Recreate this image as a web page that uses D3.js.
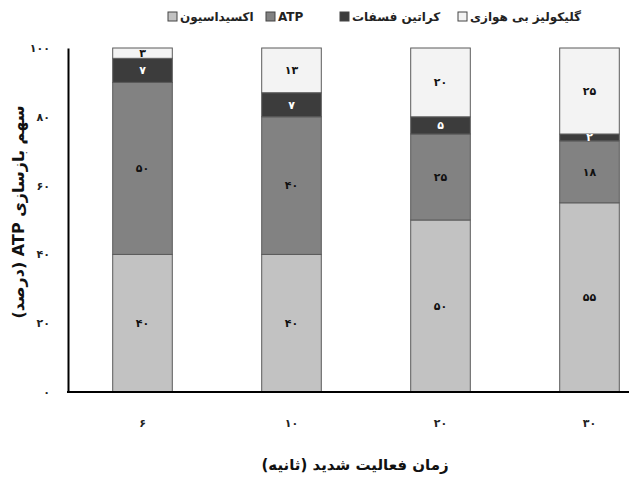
<!DOCTYPE html>
<html>
<head>
<meta charset="utf-8">
<script src="https://cdn.jsdelivr.net/npm/d3@7"></script>
<style>
  html, body { margin: 0; padding: 0; background: #fff; }
  svg text { font-family: "DejaVu Sans", sans-serif; }
</style>
</head>
<body>
<svg id="chart" width="629" height="478"></svg>
<script>
// Duration of intense activity (seconds)
const categories = [6, 10, 20, 30];
// Share of ATP resynthesis per energy system (percent)
const oxidation  = [40, 40, 50, 55];
const atpStore   = [50, 40, 25, 18];
const creatine   = [7, 7, 5, 2];
const glycolysis = [3, 13, 20, 25];
const yTicks = [0, 20, 40, 60, 80, 100];

const seriesKeys   = ["oxidation", "atp", "creatine", "glycolysis"];
const seriesNames  = ["اکسیداسیون", "ATP", "کراتین فسفات", "گلیکولیز بی هوازی"];
const seriesFill   = ["#c2c2c2", "#828282", "#3c3c3c", "#f3f3f3"];
const seriesText   = ["#111", "#111", "#fff", "#111"];

const fa = n => String(n).replace(/\d/g, d => "۰۱۲۳۴۵۶۷۸۹"[d]);

const rows = categories.map((c, i) => ({
  cat: c,
  oxidation: oxidation[i],
  atp: atpStore[i],
  creatine: creatine[i],
  glycolysis: glycolysis[i]
}));

const svg = d3.select("#chart");

const x = d3.scaleBand().domain(categories).range([68, 664]).paddingInner(0.6).paddingOuter(0.3);
const y = d3.scaleLinear().domain([0, 100]).range([392, 48]);

const stack = d3.stack().keys(seriesKeys)(rows);

// stacked segments
const layer = svg.append("g").selectAll("g").data(stack).join("g")
  .attr("fill", (d, i) => seriesFill[i]);

layer.selectAll("rect").data(d => d).join("rect")
  .attr("x", d => x(d.data.cat))
  .attr("width", x.bandwidth())
  .attr("y", d => y(d[1]))
  .attr("height", d => y(d[0]) - y(d[1]))
  .attr("stroke", "#5a5a5a")
  .attr("stroke-width", 1);

// value labels inside the segments
stack.forEach((s, si) => {
  svg.append("g").selectAll("text").data(s).join("text")
    .attr("x", d => x(d.data.cat) + x.bandwidth() / 2)
    .attr("y", d => (y(d[0]) + y(d[1])) / 2)
    .attr("dy", "0.35em")
    .attr("text-anchor", "middle")
    .attr("font-size", 11)
    .attr("font-weight", "bold")
    .attr("fill", seriesText[si])
    .text(d => fa(d[1] - d[0]));
});

// axes
const yAxis = svg.append("g").attr("transform", "translate(68,0)")
  .call(d3.axisLeft(y).tickValues(yTicks).tickSize(0).tickPadding(18).tickFormat(fa));
yAxis.select(".domain").attr("stroke", "#000").attr("stroke-width", 2);
yAxis.selectAll("text").attr("font-size", 11).attr("font-weight", "bold").attr("fill", "#222")
  .attr("font-family", "DejaVu Sans, sans-serif");

const xAxis = svg.append("g").attr("transform", "translate(0,392)")
  .call(d3.axisBottom(x).tickSize(0).tickPadding(27).tickFormat(fa));
xAxis.select(".domain").attr("stroke", "#000").attr("stroke-width", 2)
  .attr("d", "M67,0H629");
xAxis.selectAll("text").attr("font-size", 11).attr("font-weight", "bold").attr("fill", "#222")
  .attr("font-family", "DejaVu Sans, sans-serif");

// axis titles
svg.append("text")
  .attr("x", 355).attr("y", 470)
  .attr("text-anchor", "middle")
  .attr("font-size", 15).attr("font-weight", "bold").attr("fill", "#111")
  .text("زمان فعالیت شدید (ثانیه)");

svg.append("text")
  .attr("transform", "translate(24,212) rotate(-90)")
  .attr("text-anchor", "middle")
  .attr("font-size", 16).attr("font-weight", "bold").attr("fill", "#111")
  .attr("direction", "rtl")
  .text("سهم بازسازی ATP (درصد)");

// legend: square on the left of each label
const legendItems = [
  { i: 3, sx: 458 },
  { i: 2, sx: 340 },
  { i: 1, sx: 266 },
  { i: 0, sx: 168 }
];
const lg = svg.append("g");
legendItems.forEach(it => {
  lg.append("rect")
    .attr("x", it.sx).attr("y", 12).attr("width", 9).attr("height", 9)
    .attr("fill", seriesFill[it.i]).attr("stroke", "#444").attr("stroke-width", 1);
  lg.append("text")
    .attr("x", it.sx + 12).attr("y", 21)
    .attr("text-anchor", "start")
    .attr("font-size", 12).attr("font-weight", "bold").attr("fill", "#222")
    .text(seriesNames[it.i]);
});
</script>
</body>
</html>
